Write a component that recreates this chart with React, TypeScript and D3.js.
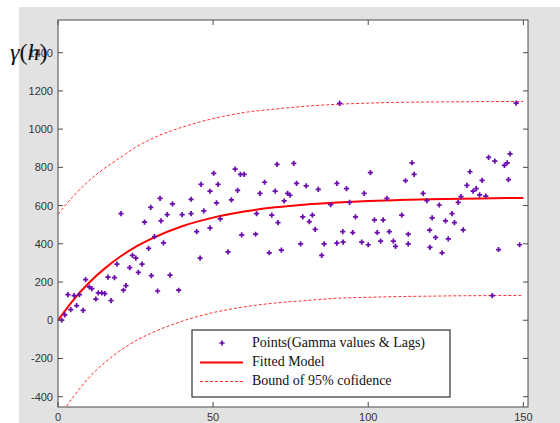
import React from 'react';
import * as d3 from 'd3';

// experimental variogram points: lag h and gamma(h)
const pointLag = [
  1.2, 2.2, 3.2, 4.1, 5.2, 6.0, 6.9, 8.1, 8.9, 10.1, 10.9, 12.2, 13.0, 14.1, 15.1, 16.1, 17.1, 18.2, 19.0, 20.3,
  21.1, 21.9, 23.1, 24.0, 25.1, 25.9, 27.1, 27.9, 29.2, 29.9, 30.1, 31.1, 32.1, 32.9, 33.2, 34.0, 35.2, 36.1, 36.9, 38.9,
  40.0, 42.9, 42.9, 44.7, 45.8, 46.1, 47.0, 49.0, 49.0, 50.2, 51.1, 51.6, 52.3, 54.8, 55.9, 57.1, 57.9, 58.8, 59.2, 60.0,
  63.7, 64.0, 65.1, 66.6, 68.1, 68.9, 70.0, 70.6, 70.9, 72.0, 72.9, 74.0, 74.8, 76.0, 76.9, 78.2, 78.9, 80.0, 81.0, 82.0,
  82.9, 83.9, 85.0, 85.8, 87.9, 89.9, 89.9, 90.8, 91.8, 91.9, 93.0, 94.0, 95.0, 95.9, 97.9, 98.7, 100.0, 100.7, 102.0, 102.9,
  104.0, 104.8, 106.0, 106.8, 108.1, 108.8, 110.8, 112.0, 112.9, 112.9, 114.1, 114.8, 117.7, 118.9, 119.9, 119.8, 120.6, 121.7, 122.9, 123.8,
  124.9, 125.8, 127.0, 127.8, 129.0, 129.9, 130.6, 131.8, 132.8, 133.8, 134.8, 135.9, 136.7, 137.9, 138.8, 140.0, 140.8, 142.0, 143.9, 144.8,
  145.2, 145.7, 147.7, 148.8,
];
const pointGamma = [
  0, 28, 134, 56, 129, 77, 134, 52, 212, 174, 165, 111, 143, 143, 139, 226, 103, 223, 294, 558,
  157, 181, 275, 339, 325, 250, 294, 513, 376, 591, 233, 438, 153, 638, 520, 405, 553, 236, 609, 157,
  553, 633, 558, 464, 325, 711, 572, 675, 483, 769, 614, 711, 530, 358, 630, 791, 680, 763, 447, 763,
  450, 558, 664, 722, 353, 550, 676, 816, 511, 367, 624, 664, 654, 821, 716, 400, 541, 703, 516, 550,
  475, 685, 339, 400, 605, 716, 403, 1135, 464, 409, 689, 617, 459, 541, 409, 664, 395, 772, 525, 459,
  414, 525, 638, 464, 414, 386, 550, 730, 450, 400, 824, 763, 664, 626, 381, 471, 536, 433, 603, 353,
  520, 426, 558, 511, 617, 647, 473, 706, 777, 675, 689, 656, 732, 650, 852, 129, 833, 370, 810, 824,
  736, 871, 1136, 395,
];

// fitted model and 95% bounds
const curveLag = [0, 5, 10, 15, 20, 25, 30, 40, 50, 60, 70, 80, 90, 100, 110, 120, 130, 140, 150];
const fitted = [0, 107, 196, 270, 332, 384, 426, 492, 537, 569, 591, 606, 616, 624, 629, 633, 636, 638, 640];
const upperBound = [555, 650, 730, 795, 850, 905, 948, 1010, 1055, 1087, 1105, 1120, 1130, 1136, 1140, 1142, 1143, 1144, 1145];
const lowerBound = [-515, -400, -300, -222, -160, -108, -68, -5, 40, 70, 90, 103, 115, 120, 124, 126, 128, 129, 130];

const xTicks = [0, 50, 100, 150];
const yTicks = [-400, -200, 0, 200, 400, 600, 800, 1000, 1200, 1400];

const W = 560, H = 423;
const left = 58, right = 528, top = 20, bottom = 407;

export default function App() {
  const x = d3.scaleLinear().domain([0, 151.5]).range([left, right]);
  const y = d3.scaleLinear().domain([-454, 1571]).range([bottom, top]);

  const line = d3.line<number>()
    .x((_, i) => x(curveLag[i]))
    .y((d) => y(d))
    .curve(d3.curveMonotoneX);

  const cross = d3.symbol().type(d3.symbolCross).size(15)();
  const purple = '#6a0dad';
  const axisColor = '#4a4a4a';
  const tickFont = 'Liberation Sans, Arial, sans-serif';
  const serif = 'Liberation Serif, Times New Roman, serif';

  return (
    <svg width={W} height={H} style={{ position: 'absolute', left: 0, top: 0 }}>
      <rect x={0} y={0} width={W} height={H} fill="#fff" />
      <rect x={19} y={7} width={W - 19} height={H - 7} fill="#e2e2e2" />
      <rect x={left} y={top} width={right - left} height={bottom - top} fill="#fff" />

      <defs>
        <clipPath id="plot">
          <rect x={left} y={top} width={right - left} height={bottom - top} />
        </clipPath>
      </defs>

      <g clipPath="url(#plot)">
        <path d={line(upperBound) || ''} fill="none" stroke="#ff3030" strokeWidth={1} strokeDasharray="3,2" />
        <path d={line(lowerBound) || ''} fill="none" stroke="#ff3030" strokeWidth={1} strokeDasharray="3,2" />
        <path d={line(fitted) || ''} fill="none" stroke="#ff0000" strokeWidth={2} />
        {pointLag.map((h, i) => (
          <path key={i} d={cross || ''} transform={`translate(${x(h)},${y(pointGamma[i])})`} fill={purple} />
        ))}
      </g>

      {/* axes box and inner ticks */}
      <rect x={left} y={top} width={right - left} height={bottom - top} fill="none" stroke={axisColor} strokeWidth={1} />
      {yTicks.map((t) => (
        <g key={'y' + t}>
          <line x1={left} x2={left + 5} y1={y(t)} y2={y(t)} stroke={axisColor} />
          <line x1={right - 5} x2={right} y1={y(t)} y2={y(t)} stroke={axisColor} />
          <text x={left - 5} y={y(t) + 4} textAnchor="end" fontSize={11} fontFamily={tickFont} fill="#333">{t}</text>
        </g>
      ))}
      {xTicks.map((t) => (
        <g key={'x' + t}>
          <line x1={x(t)} x2={x(t)} y1={bottom} y2={bottom - 5} stroke={axisColor} />
          <line x1={x(t)} x2={x(t)} y1={top} y2={top + 5} stroke={axisColor} />
          <text x={x(t)} y={bottom + 14} textAnchor="middle" fontSize={11} fontFamily={tickFont} fill="#333">{t}</text>
        </g>
      ))}

      <text x={10} y={60} fontSize={24} fontFamily={serif} fill="#111">
        <tspan fontStyle="italic">γ</tspan>
        <tspan>(</tspan>
        <tspan fontStyle="italic">h</tspan>
        <tspan>)</tspan>
      </text>

      {/* legend */}
      <g>
        <rect x={192} y={330} width={258} height={67} fill="#fff" stroke="#333" strokeWidth={1.2} />
        <path d={cross || ''} transform="translate(222,343)" fill={purple} />
        <line x1={200} x2={243} y1={362.5} y2={362.5} stroke="#ff0000" strokeWidth={2} />
        <line x1={200} x2={243} y1={381.5} y2={381.5} stroke="#ff3030" strokeWidth={1} strokeDasharray="3,2" />
        <text x={252} y={346.5} fontSize={14} fontFamily={serif} fill="#111">Points(Gamma values &amp; Lags)</text>
        <text x={252} y={365.5} fontSize={14} fontFamily={serif} fill="#111">Fitted Model</text>
        <text x={252} y={385} fontSize={14} fontFamily={serif} fill="#111">Bound of 95% cofidence</text>
      </g>
    </svg>
  );
}
